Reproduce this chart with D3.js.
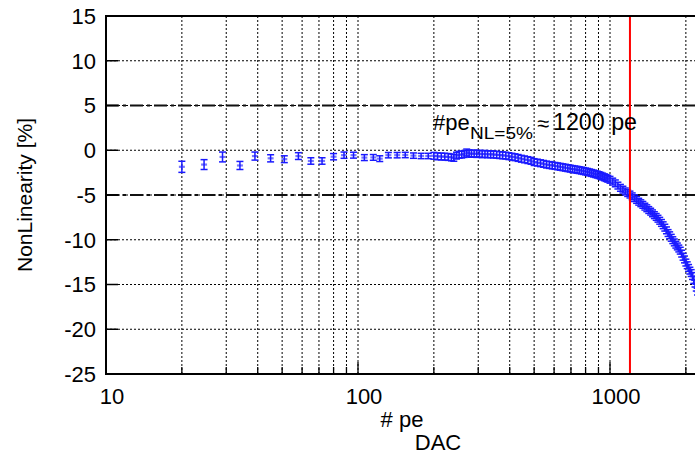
<!DOCTYPE html>
<html><head><meta charset="utf-8">
<script src="https://cdn.jsdelivr.net/npm/d3@7"></script>
<style>body{margin:0;background:#fff}svg{display:block;font-family:"Liberation Sans",Arial,sans-serif}</style>
</head><body><svg id="c" width="695" height="457"></svg>
<script>
// ---- data ----
const pe = [20,24.5,29,34,39,45,51,58,65,72,80,88,96,106,115,122,132,143,154,166,178,190,
200,207,214,221,228,235,240,246,252,258,264,270,276,282,289,296,303,311,319,327,336,345,355,365,375,386,397,408,420,432,445,458,472,486,
500,515,530,545,560,575,590,605,620,635,650,665,680,695,710,725,740,755,770,785,800,815,830,845,860,875,890,905,920,935,950,965,980,
1000,1025,1050,1075,1100,1125,1150,1175,1200,1225,1250,1275,1300,1325,1350,1375,1400,1425,1450,1475,1500,1525,1550,1575,1600,1625,1650,1675,1700,1725,1750,1775,1800,1825,1850,1875,1900,1925,1950,1975,2000,2025,2050,2075,2100,2125,2150,2175,2200,2225,2250];
const nl = [-1.85,-1.6,-0.75,-1.7,-0.65,-0.9,-1.0,-0.65,-1.2,-1.2,-0.72,-0.55,-0.55,-0.82,-0.8,-0.94,-0.55,-0.55,-0.53,-0.6,-0.64,-0.64,
-0.62,-0.68,-0.7,-0.72,-0.75,-0.8,-0.85,-0.6,-0.5,-0.48,-0.42,-0.25,-0.35,-0.4,-0.36,-0.42,-0.38,-0.45,-0.4,-0.46,-0.44,-0.48,-0.5,-0.54,-0.57,-0.6,-0.66,-0.72,-0.78,-0.86,-0.95,-1.02,-1.1,-1.18,
-1.32,-1.38,-1.45,-1.52,-1.6,-1.65,-1.7,-1.75,-1.8,-1.85,-1.9,-1.95,-2.0,-2.05,-2.1,-2.14,-2.18,-2.22,-2.27,-2.32,-2.37,-2.42,-2.48,-2.54,-2.6,-2.66,-2.72,-2.78,-2.86,-2.94,-3.02,-3.1,-3.18,
-3.3,-3.5,-3.7,-3.95,-4.2,-4.4,-4.6,-4.78,-4.95,-5.15,-5.35,-5.55,-5.75,-5.92,-6.1,-6.3,-6.48,-6.68,-6.86,-7.05,-7.25,-7.45,-7.65,-7.88,-8.12,-8.38,-8.65,-8.95,-9.25,-9.5,-9.78,-10.05,-10.3,-10.55,-10.75,-10.98,-11.22,-11.55,-11.9,-12.2,-12.55,-12.85,-13.15,-13.45,-13.72,-14.05,-14.5,-14.9,-15.35,-15.8,-16.2];
const errLow = [0.62,0.55,0.55,0.45,0.45,0.4,0.38,0.38,0.36,0.36,0.35,0.35,0.33,0.33,0.32,0.32,0.3,0.3,0.3,0.3,0.3,0.3];
const errDense = 0.38;
const yTicks = [15,10,5,0,-5,-10,-15,-20,-25];
const xTickLabels = [10,100,1000];
const xMinor = [20,30,40,50,60,70,80,90,100,200,300,400,500,600,700,800,900,1000,2000,3000];
const nlLimits = [5,-5];
const peNL5 = 1200;

// ---- layout ----
const svg = d3.select("#c");
const L = 106, T = 16, B = 374;
const x = d3.scaleLog().domain([10, Math.pow(10,3.5)]).range([L, L + 2.5*252]);
const y = d3.scaleLinear().domain([-25, 15]).range([B, T]);
const R = 760;

// grid
const g = svg.append("g");
g.selectAll(".vg").data(xMinor).enter().append("line")
  .attr("x1", d=>x(d)).attr("x2", d=>x(d)).attr("y1", T).attr("y2", B)
  .attr("stroke","#000").attr("stroke-width",1).attr("stroke-dasharray","2,2");
g.selectAll(".hg").data(yTicks.filter(v=>v!==15 && v!==-25)).enter().append("line")
  .attr("x1", L).attr("x2", R).attr("y1", d=>y(d)).attr("y2", d=>y(d))
  .attr("stroke","#000").attr("stroke-width",1).attr("stroke-dasharray","2,2");

// dash-dot limit lines
g.selectAll(".lim").data(nlLimits).enter().append("line")
  .attr("x1", L).attr("x2", R).attr("y1", d=>y(d)).attr("y2", d=>y(d))
  .attr("stroke","#111").attr("stroke-width",2.2).attr("stroke-dasharray","13,4,3,4");

// data with error bars
const pts = pe.map((p,i)=>({p, v:nl[i], e: i<errLow.length?errLow[i]:errDense}));
const col = "#1a1aff";
const m = svg.append("g").attr("stroke", col).attr("stroke-width",1.5);
pts.forEach(d=>{
  const cx = x(d.p), y1 = y(d.v+d.e), y2 = y(d.v-d.e), cy = y(d.v);
  m.append("line").attr("x1",cx).attr("x2",cx).attr("y1",y1).attr("y2",y2);
  m.append("line").attr("x1",cx-3.5).attr("x2",cx+3.5).attr("y1",y1).attr("y2",y1);
  m.append("line").attr("x1",cx-3.5).attr("x2",cx+3.5).attr("y1",y2).attr("y2",y2);
  m.append("line").attr("x1",cx-3).attr("x2",cx+3).attr("y1",cy).attr("y2",cy).attr("stroke-width",2.2).attr("stroke-opacity",0.6);
});

// red line
svg.append("line").attr("x1",x(peNL5)).attr("x2",x(peNL5)).attr("y1",T).attr("y2",B)
  .attr("stroke","#ff0000").attr("stroke-width",2);

// frame
svg.append("path").attr("d",`M${R},${T}H${L}V${B}H${R}`).attr("fill","none").attr("stroke","#000").attr("stroke-width",2);

// y ticks
svg.selectAll(".yt").data(yTicks).enter().append("line")
  .attr("x1",L).attr("x2",L+12).attr("y1",d=>y(d)).attr("y2",d=>y(d)).attr("stroke","#000").attr("stroke-width",1.5);
svg.selectAll(".yl").data(yTicks).enter().append("text")
  .attr("x",96).attr("y",d=>y(d)).attr("dy","0.36em").attr("text-anchor","end")
  .attr("font-size",22).text(d=>d);

// x ticks
svg.selectAll(".xt").data(xMinor).enter().append("line")
  .attr("x1",d=>x(d)).attr("x2",d=>x(d)).attr("y1",B).attr("y2",d=>xTickLabels.includes(d)?B-12:B-7)
  .attr("stroke","#000").attr("stroke-width",1.3);
svg.selectAll(".xl").data(xTickLabels).enter().append("text")
  .attr("x",d=>x(d)+6).attr("y",404).attr("text-anchor","middle")
  .attr("font-size",22).text(d=>d);

// axis titles
svg.append("text").attr("transform","translate(32,195) rotate(-90)").attr("text-anchor","middle")
  .attr("font-size",21).text("NonLinearity [%]");
svg.append("text").attr("x",402).attr("y",427).attr("text-anchor","middle").attr("font-size",22).text("# pe");
svg.append("text").attr("x",438).attr("y",450).attr("text-anchor","middle").attr("font-size",22).text("DAC");

// annotation
const ann = svg.append("text").attr("y",130).attr("font-size",22);
ann.append("tspan").attr("x",433).text("#pe");
ann.append("tspan").attr("x",470).attr("font-size",17).attr("dy",9).attr("textLength",63).attr("lengthAdjust","spacingAndGlyphs").text("NL=5%");
svg.append("text").attr("x",537).attr("y",131).attr("font-size",22).text("≈");
svg.append("text").attr("x",553).attr("y",130).attr("font-size",23).attr("textLength",84).attr("lengthAdjust","spacingAndGlyphs").text("1200 pe");
</script></body></html>
